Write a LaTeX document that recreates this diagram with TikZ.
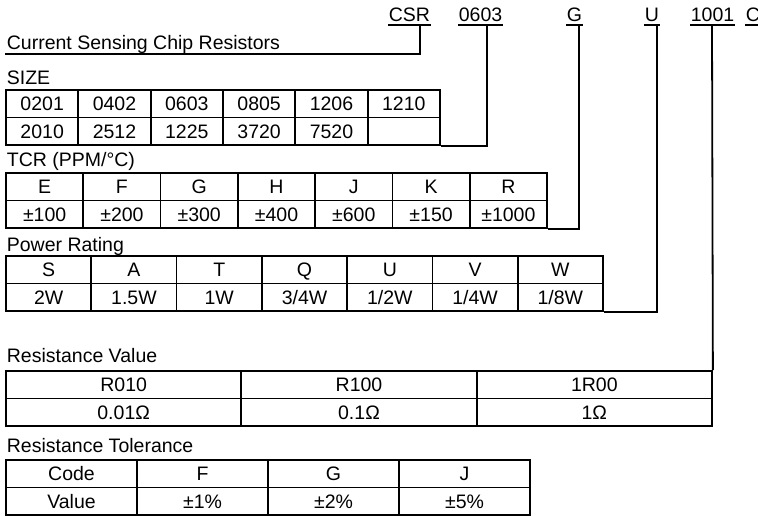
\documentclass[tikz,border=0pt]{standalone}
\usepackage{fontspec}
\setmainfont{Liberation Sans}

\begin{document}
\begin{tikzpicture}[x=1pt, y=-1pt, line width=1.8pt,
    font=\fontsize{19.5}{22}\selectfont,
    cell/.style={draw, rectangle, inner sep=0pt, minimum height=27.5pt,
      text height=14pt, text depth=0pt},
    caption/.style={anchor=base west, inner sep=0pt},
    partcode/.style={anchor=base west, inner sep=0pt}]

    % 1. Page size
    \useasboundingbox (0,0) rectangle (758,516);
    \clip (0,0) rectangle (758,516);

    % 2. Part number codes (underlined)
    \node[partcode] (code-csr) at (388,22) {CSR};
    \node[partcode] (code-size) at (458,22) {0603};
    \node[partcode] (code-tcr) at (566,22) {G};
    \node[partcode] (code-pwr) at (644,22) {U};
    \node[partcode] (code-res) at (690,22) {1001};
    \node[partcode] (code-tol) at (745,22) {C};
    \foreach \n in {csr,size,tcr,pwr,res,tol}
        \draw[line width=1.3pt] ([yshift=-3pt]code-\n.base west) -- ([yshift=-3pt]code-\n.base east);

    % 3. Captions
    \node[caption] (title) at (6,50) {Current Sensing Chip Resistors};
    \node[caption] (size-cap) at (6,85) {SIZE};
    \node[caption] (tcr-cap) at (6,167) {TCR (PPM/°C)};
    \node[caption] (pwr-cap) at (6,251) {Power Rating};
    \node[caption] (res-cap) at (6,362) {Resistance Value};
    \node[caption] (tol-cap) at (6,452) {Resistance Tolerance};

    % 4. SIZE table
    \foreach \t [count=\i from 0] in {0201,0402,0603,0805,1206,1210}
        \node[cell, minimum width=72.33pt] (size-a\i) at ({6+72.33*(\i+0.5)},103.75) {\t};
    \foreach \t [count=\i from 0] in {2010,2512,1225,3720,7520,{}}
        \node[cell, minimum width=72.33pt] (size-b\i) at ({6+72.33*(\i+0.5)},131.25) {\t};

    % 5. TCR table
    \foreach \t [count=\i from 0] in {E,F,G,H,J,K,R}
        \node[cell, minimum width=77.29pt] (tcr-a\i) at ({6+77.29*(\i+0.5)},186.75) {\t};
    \foreach \t [count=\i from 0] in {±100,±200,±300,±400,±600,±150,±1000}
        \node[cell, minimum width=77.29pt] (tcr-b\i) at ({6+77.29*(\i+0.5)},214.25) {\t};

    % 6. Power rating table
    \foreach \t [count=\i from 0] in {S,A,T,Q,U,V,W}
        \node[cell, minimum width=85.29pt] (pwr-a\i) at ({6+85.29*(\i+0.5)},269.75) {\t};
    \foreach \t [count=\i from 0] in {2W,1.5W,1W,3/4W,1/2W,1/4W,1/8W}
        \node[cell, minimum width=85.29pt] (pwr-b\i) at ({6+85.29*(\i+0.5)},297.25) {\t};

    % 7. Resistance value table
    \foreach \t [count=\i from 0] in {R010,R100,1R00}
        \node[cell, minimum width=235.33pt] (res-a\i) at ({6+235.33*(\i+0.5)},384.75) {\t};
    \foreach \t [count=\i from 0] in {0.01Ω,0.1Ω,1Ω}
        \node[cell, minimum width=235.33pt] (res-b\i) at ({6+235.33*(\i+0.5)},412.25) {\t};

    % 8. Resistance tolerance table
    \foreach \t [count=\i from 0] in {Code,F,G,J}
        \node[cell, minimum width=131pt] (tol-a\i) at ({6+131*(\i+0.5)},473.75) {\t};
    \foreach \t [count=\i from 0] in {Value,±1\%,±2\%,±5\%}
        \node[cell, minimum width=131pt] (tol-b\i) at ({6+131*(\i+0.5)},501.25) {\t};

    % 9. Leader lines from the codes
    \coordinate (csr-drop) at (420,25);
    \coordinate (title-end) at (5,54);
    \coordinate (size-drop) at (487,25);
    \coordinate (tcr-drop) at (579,25);
    \coordinate (pwr-drop) at (657,25);
    \coordinate (res-drop) at (712,25);

    \draw (csr-drop) |- (title-end);
    \draw (size-drop) |- (size-b5.south east);
    \draw (tcr-drop) |- (tcr-b6.south east);
    \draw (pwr-drop) |- (pwr-b6.south east);
    \draw (res-drop) -- (res-a2.north east);

\end{tikzpicture}
\end{document}
